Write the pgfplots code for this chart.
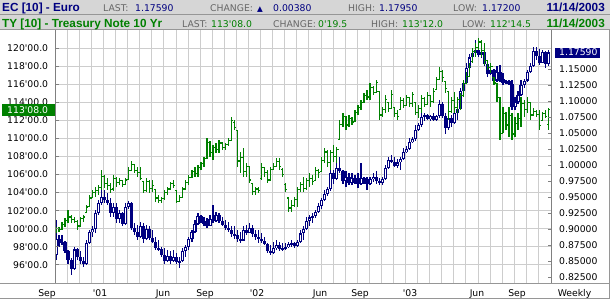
\documentclass[border=0pt]{standalone}
\usepackage{fontspec}
\setmainfont{DejaVu Sans}[Ligatures=TeXOff]
\newfontfamily\hfont{Liberation Sans}[Ligatures=TeXOff]
\usepackage{pgfplots}
\usepackage{pgfplotstable}
\pgfplotsset{compat=1.18}
\definecolor{eurnavy}{RGB}{0,0,128}
\definecolor{tygreen}{RGB}{0,128,0}
\definecolor{hdrgray}{RGB}{214,214,214}
\definecolor{hdrline}{RGB}{150,150,150}
\definecolor{gridgray}{RGB}{205,205,205}
\definecolor{axisgray}{RGB}{128,128,128}
\definecolor{lblgray}{RGB}{102,102,102}
\newcommand{\nf}{\fontsize{9.3}{11}\selectfont}
\newcommand{\hb}{\hfont\bfseries\fontsize{11.8}{13}\selectfont}

\pgfplotstableread{
w o h l c
0 0.860 0.914 0.852 0.885
1 0.885 0.891 0.872 0.878
2 0.878 0.891 0.875 0.880
3 0.880 0.882 0.862 0.866
4 0.866 0.867 0.846 0.852
5 0.852 0.854 0.828 0.838
6 0.838 0.872 0.836 0.868
7 0.868 0.870 0.852 0.856
8 0.856 0.865 0.846 0.850
9 0.850 0.857 0.841 0.845
10 0.845 0.883 0.843 0.878
11 0.878 0.898 0.876 0.895
12 0.895 0.904 0.888 0.900
13 0.900 0.930 0.893 0.925
14 0.925 0.945 0.922 0.940
15 0.940 0.962 0.938 0.950
16 0.950 0.961 0.940 0.945
17 0.945 0.956 0.937 0.940
18 0.940 0.948 0.919 0.925
19 0.925 0.940 0.919 0.935
20 0.935 0.940 0.909 0.915
21 0.915 0.930 0.909 0.925
22 0.925 0.927 0.904 0.908
23 0.908 0.940 0.906 0.935
24 0.935 0.943 0.932 0.940
25 0.940 0.942 0.898 0.902
26 0.902 0.909 0.891 0.895
27 0.895 0.906 0.883 0.888
28 0.888 0.911 0.886 0.905
29 0.905 0.909 0.878 0.885
30 0.885 0.906 0.883 0.900
31 0.900 0.904 0.883 0.886
32 0.886 0.898 0.878 0.880
33 0.880 0.888 0.867 0.870
34 0.870 0.883 0.865 0.868
35 0.868 0.872 0.857 0.860
36 0.860 0.870 0.846 0.850
37 0.850 0.867 0.849 0.858
38 0.858 0.865 0.846 0.850
39 0.850 0.867 0.848 0.856
40 0.856 0.862 0.846 0.848
41 0.848 0.857 0.839 0.850
42 0.850 0.870 0.849 0.865
43 0.865 0.875 0.857 0.872
44 0.872 0.888 0.867 0.884
45 0.884 0.898 0.880 0.895
46 0.895 0.914 0.893 0.908
47 0.908 0.925 0.906 0.920
48 0.920 0.922 0.909 0.912
49 0.912 0.919 0.904 0.908
50 0.908 0.917 0.901 0.905
51 0.905 0.922 0.904 0.915
52 0.915 0.938 0.909 0.912
53 0.912 0.927 0.911 0.922
54 0.922 0.925 0.909 0.912
55 0.912 0.919 0.904 0.906
56 0.906 0.914 0.898 0.902
57 0.902 0.911 0.896 0.898
58 0.898 0.904 0.888 0.892
59 0.892 0.904 0.885 0.890
60 0.890 0.898 0.880 0.884
61 0.884 0.896 0.878 0.882
62 0.882 0.904 0.881 0.898
63 0.898 0.906 0.891 0.894
64 0.894 0.909 0.893 0.902
65 0.902 0.906 0.888 0.892
66 0.892 0.898 0.883 0.888
67 0.888 0.898 0.878 0.884
68 0.884 0.893 0.878 0.881
69 0.881 0.888 0.875 0.877
70 0.877 0.878 0.862 0.865
71 0.865 0.875 0.859 0.862
72 0.862 0.880 0.861 0.870
73 0.870 0.883 0.867 0.875
74 0.875 0.880 0.865 0.868
75 0.868 0.878 0.865 0.870
76 0.870 0.878 0.867 0.872
77 0.872 0.880 0.870 0.876
78 0.876 0.883 0.872 0.878
79 0.878 0.880 0.870 0.874
80 0.874 0.883 0.872 0.880
81 0.880 0.898 0.878 0.893
82 0.893 0.904 0.883 0.900
83 0.900 0.919 0.898 0.912
84 0.912 0.922 0.904 0.918
85 0.918 0.925 0.909 0.920
86 0.920 0.930 0.917 0.927
87 0.927 0.940 0.925 0.936
88 0.936 0.948 0.932 0.945
89 0.945 0.961 0.943 0.955
90 0.955 0.966 0.951 0.962
91 0.962 0.992 0.960 0.988
92 0.988 0.992 0.971 0.978
93 0.978 1.003 0.977 0.995
94 0.995 1.013 0.987 0.990
95 0.990 0.992 0.971 0.975
96 0.975 0.990 0.966 0.982
97 0.982 0.987 0.969 0.972
98 0.972 0.987 0.969 0.980
99 0.980 0.984 0.971 0.975
100 0.975 0.987 0.964 0.970
101 0.970 1.003 0.968 0.980
102 0.980 0.982 0.971 0.975
103 0.975 0.982 0.961 0.970
104 0.970 0.982 0.969 0.978
105 0.978 0.987 0.974 0.982
106 0.982 0.990 0.971 0.975
107 0.975 0.979 0.969 0.972
108 0.972 0.982 0.969 0.978
109 0.978 1.000 0.976 0.995
110 0.995 1.013 0.994 1.008
111 1.008 1.016 1.003 1.004
112 1.004 1.013 0.997 0.999
113 0.999 1.010 0.995 1.004
114 1.004 1.013 0.992 1.010
115 1.010 1.026 1.008 1.020
116 1.020 1.029 1.018 1.025
117 1.025 1.042 1.024 1.036
118 1.036 1.044 1.034 1.040
119 1.040 1.062 1.038 1.055
120 1.055 1.065 1.053 1.062
121 1.062 1.081 1.060 1.075
122 1.075 1.081 1.068 1.078
123 1.078 1.080 1.070 1.072
124 1.072 1.078 1.068 1.076
125 1.076 1.081 1.068 1.071
126 1.071 1.078 1.068 1.076
127 1.076 1.102 1.074 1.095
128 1.095 1.099 1.073 1.076
129 1.076 1.081 1.049 1.058
130 1.058 1.078 1.055 1.074
131 1.074 1.078 1.060 1.065
132 1.065 1.086 1.064 1.082
133 1.082 1.091 1.070 1.088
134 1.088 1.120 1.086 1.115
135 1.115 1.133 1.107 1.128
136 1.128 1.159 1.126 1.152
137 1.152 1.174 1.150 1.168
138 1.168 1.180 1.159 1.175
139 1.175 1.195 1.172 1.180
140 1.180 1.190 1.169 1.172
141 1.172 1.190 1.167 1.176
142 1.176 1.178 1.154 1.158
143 1.158 1.160 1.138 1.142
144 1.142 1.151 1.141 1.148
145 1.148 1.150 1.128 1.132
146 1.132 1.154 1.130 1.145
147 1.145 1.156 1.130 1.135
148 1.135 1.143 1.125 1.128
149 1.128 1.133 1.126 1.131
150 1.131 1.133 1.125 1.127
151 1.127 1.133 1.086 1.090
152 1.090 1.107 1.086 1.098
153 1.098 1.115 1.096 1.110
154 1.110 1.133 1.108 1.125
155 1.125 1.135 1.120 1.132
156 1.132 1.148 1.130 1.145
157 1.145 1.159 1.143 1.155
158 1.155 1.185 1.153 1.178
159 1.178 1.185 1.164 1.170
160 1.170 1.182 1.156 1.160
161 1.160 1.180 1.159 1.176
162 1.176 1.178 1.151 1.158
163 1.158 1.1795 1.155 1.1759
}\eurdata

\pgfplotstableread{
w o h l c
0 99.7 100.23 99.49 100.0
1 100.0 100.23 99.68 99.9
2 99.9 100.78 99.86 100.5
3 100.5 101.15 100.23 100.9
4 100.9 102.07 100.60 101.3
5 101.3 101.52 100.60 101.0
6 101.0 101.33 100.60 100.8
7 100.8 100.97 99.86 100.3
8 100.3 101.33 100.20 101.1
9 101.1 101.52 100.78 101.3
10 101.8 102.63 101.70 102.4
11 102.5 103.74 102.44 103.4
12 103.4 104.29 103.37 104.0
13 104.0 104.66 103.55 104.2
14 104.2 104.85 103.74 104.6
15 104.6 106.51 104.29 105.8
16 105.8 105.90 104.48 105.0
17 105.0 105.59 104.29 104.8
18 104.8 105.03 103.92 104.3
19 104.4 105.95 104.20 105.6
20 105.6 105.77 104.66 105.1
21 105.1 105.59 104.85 105.3
22 105.3 105.40 104.66 104.9
23 104.9 105.59 104.85 105.4
24 105.5 106.88 105.40 106.5
25 106.5 107.54 106.40 107.1
26 107.1 107.15 106.14 106.5
27 106.5 106.88 105.77 106.2
28 106.2 106.88 105.40 105.6
29 105.2 105.22 103.92 104.2
30 104.2 105.59 104.10 105.2
31 105.2 105.40 103.92 104.5
32 104.5 105.40 104.11 104.8
33 104.3 104.40 103.00 103.4
34 103.4 103.74 102.81 103.1
35 103.1 103.55 102.81 103.3
36 103.3 104.29 103.20 104.0
37 104.0 104.66 103.74 104.4
38 104.4 105.22 104.29 105.0
39 105.0 105.40 104.48 104.8
40 104.2 104.29 102.81 103.0
41 103.0 103.74 102.95 103.5
42 103.5 104.66 103.50 104.4
43 104.4 105.40 104.29 105.1
44 105.1 105.95 104.85 105.7
45 105.7 106.51 105.59 106.3
46 106.3 106.88 105.77 106.1
47 106.1 107.06 105.77 106.8
48 106.8 107.43 106.51 107.2
49 107.2 107.99 106.88 107.8
50 107.8 110.02 107.70 109.6
51 109.6 109.70 107.99 108.4
52 108.4 109.28 107.62 109.0
53 109.0 109.46 108.36 108.8
54 108.8 109.83 108.36 109.5
55 109.5 109.65 108.73 109.0
56 109.0 109.46 108.73 109.3
57 109.3 110.02 109.20 109.8
58 109.8 112.42 109.70 112.0
59 111.8 112.10 110.94 111.2
60 110.9 110.94 106.88 107.5
61 107.5 108.54 106.14 107.9
62 107.9 108.91 105.77 106.3
63 106.3 107.25 105.77 106.9
64 106.9 106.95 105.03 105.4
65 105.0 105.03 103.74 104.1
66 104.1 104.66 103.74 104.4
67 104.4 104.66 103.92 104.2
68 105.6 107.25 105.40 106.8
69 106.8 106.88 105.77 106.2
70 106.2 106.51 105.03 105.4
71 105.4 106.88 105.30 106.6
72 106.6 107.25 106.51 106.9
73 106.9 107.80 106.85 107.4
74 107.4 107.80 106.51 106.9
75 106.6 106.69 105.77 106.0
76 104.9 105.03 104.11 104.3
77 103.4 103.55 101.89 102.3
78 102.3 103.18 101.89 102.6
79 102.6 103.55 102.44 103.2
80 103.2 104.66 102.44 104.3
81 104.3 105.22 104.11 104.9
82 104.9 105.77 104.11 104.5
83 104.5 105.59 104.29 105.3
84 105.3 106.14 104.66 105.6
85 105.6 105.95 104.85 105.2
86 105.3 106.88 105.25 106.5
87 106.5 106.60 105.59 106.2
88 106.3 107.99 106.25 107.6
89 107.6 108.91 107.25 108.5
90 108.5 108.73 106.88 107.3
91 107.3 108.73 106.51 108.4
92 108.4 109.28 107.43 108.0
93 108.0 109.10 107.25 108.8
94 109.9 112.05 109.83 111.6
95 111.6 112.79 111.31 112.4
96 112.4 112.50 110.94 111.5
97 111.5 112.61 111.31 112.2
98 112.2 112.42 111.50 111.8
99 111.9 113.16 111.80 112.9
100 112.9 113.70 112.61 113.4
101 113.4 114.27 113.16 114.0
102 114.0 115.01 113.95 114.8
103 114.8 115.38 114.27 114.6
104 114.6 116.12 114.27 115.7
105 115.7 115.80 114.82 115.1
106 115.1 116.49 115.01 116.2
107 115.2 115.30 112.05 112.6
108 112.6 113.53 112.42 113.2
109 113.2 114.82 112.79 114.3
110 114.0 114.08 112.97 113.3
111 113.3 115.38 113.25 114.9
112 113.4 113.53 112.42 112.8
113 112.8 113.16 112.05 112.4
114 113.2 114.64 113.16 114.2
115 114.2 114.45 113.35 113.7
116 113.7 114.82 113.65 114.5
117 114.5 114.64 113.53 113.9
118 113.9 115.19 113.53 114.9
119 114.0 114.08 112.61 112.9
120 112.9 113.72 112.24 113.3
121 113.3 114.82 112.79 114.4
122 114.4 114.64 113.53 113.8
123 113.8 115.19 113.72 114.8
124 114.8 114.82 113.53 114.1
125 114.1 115.56 113.90 115.2
126 115.4 116.86 115.38 116.5
127 116.5 117.96 116.45 117.4
128 117.4 117.59 116.30 116.8
129 116.3 116.40 115.01 115.5
130 115.2 115.30 112.05 113.0
131 113.0 114.64 112.79 114.2
132 114.2 115.19 112.79 113.4
133 113.4 114.64 112.79 114.3
134 114.3 115.01 113.16 114.8
135 114.8 116.49 114.64 116.1
136 116.1 117.41 116.05 116.9
137 116.9 118.33 116.86 118.0
138 118.5 119.99 118.40 119.6
139 119.6 120.55 119.07 120.1
140 120.1 121.11 119.81 120.7
141 120.7 120.92 119.07 119.8
142 119.8 120.55 118.15 118.6
143 118.6 118.70 117.59 117.9
144 117.9 118.33 117.23 118.0
145 116.8 116.86 115.93 116.2
146 116.1 116.12 114.08 114.5
147 114.5 114.64 109.83 110.6
148 110.6 113.53 110.57 112.8
149 112.8 112.90 110.94 111.5
150 111.5 113.53 110.20 112.5
151 112.5 112.79 109.83 110.5
152 110.5 112.42 110.20 111.7
153 111.7 112.79 110.94 112.2
154 112.2 114.64 111.31 113.9
155 113.9 114.27 112.42 113.2
156 113.2 114.64 112.79 114.0
157 114.0 114.10 112.05 112.6
158 112.6 113.35 112.55 113.0
159 113.0 113.16 112.42 112.7
160 112.7 113.16 110.94 111.4
161 112.0 112.97 111.90 112.8
162 112.8 113.16 112.24 112.4
163 111.6 113.375 110.94 113.25
}\tydata

\pgfplotsset{
  chartgeom/.style={
    at={(55bp,16.5bp)}, anchor=south west,
    scale only axis, width=497bp, height=252.5bp,
    xmin=-0.331, xmax=164.24,
  },
}

\begin{document}
\begin{tikzpicture}[x=1bp,y=1bp]
\useasboundingbox (0,0) rectangle (610,300);
\fill[white] (0,0) rectangle (610,300);
% header bands
\fill[hdrgray] (0,286) rectangle (610,300);
\fill[hdrgray] (0,271) rectangle (610,285);
\fill[hdrline] (0,285) rectangle (610,286);
\fill[hdrline] (0,270) rectangle (610,271);

% axis A: left labels + x labels only
\begin{axis}[chartgeom,
  ymin=93.924, ymax=121.918,
  axis line style={draw=none},
  xtick={14.57,35.43,49.34,66.56,87.42,100.66,117.22,139.4,152.65},
  xticklabels={'01,Jun,Sep,'02,Jun,Sep,'03,Jun,Sep},
  ytick={96,98,...,120},
  yticklabels={96'00.0,98'00.0,100'00.0,102'00.0,104'00.0,106'00.0,108'00.0,110'00.0,112'00.0,114'00.0,116'00.0,118'00.0,120'00.0},
  ytick pos=left, xtick pos=bottom,
  major tick length=0pt,
  xticklabel style={font=\nf, anchor=base, yshift=-12.8bp, inner sep=0pt},
  yticklabel style={font=\nf, anchor=east, xshift=-6.7bp, inner sep=0pt},
]
\addplot[draw=none, mark=none, forget plot] coordinates {(0,100)};
\end{axis}

% axis B: Euro scale labels only (right)
\begin{axis}[chartgeom,
  ymin=0.814844, ymax=1.209375,
  hide x axis,
  axis y line*=right,
  axis line style={draw=none},
  ytick={0.825,0.85,0.875,0.9,0.925,0.95,0.975,1,1.025,1.05,1.075,1.1,1.125,1.15},
  yticklabels={0.82500,0.85000,0.87500,0.90000,0.92500,0.95000,0.97500,1.00000,1.02500,1.05000,1.07500,1.10000,1.12500,1.15000},
  major tick length=0pt,
  yticklabel style={font=\nf, anchor=west, xshift=7bp, inner sep=0pt},
]
\addplot[draw=none, mark=none, forget plot] coordinates {(0,1)};
\end{axis}

% grid drawn after the label axes, before the data axis
\foreach \gx in {0,...,39} {
  \pgfmathtruncatemacro\gxx{67.32+12.08*\gx}
  \fill[gridgray] (\gxx,17) rectangle (\gxx+1,270);
}
\foreach \gy in {35,53,71,89,107,125,143,161,179,197,215,233,251} {
  \fill[gridgray] (56,\gy) rectangle (551,\gy+1);
}

% axis C: Euro (mapped onto the left scale: y = 70.955*EUR + 36.107) and Treasury data
\begin{axis}[chartgeom,
  ymin=93.924, ymax=121.918,
  hide axis,
]
\addplot[draw=none, mark=none, forget plot,
  error bars/.cd, y dir=both, y explicit, error mark=none,
  error bar style={draw=eurnavy, line width=1.2bp}]
  table[x=w, y expr={70.955*(\thisrow{h}+\thisrow{l})/2+36.107}, y error expr={70.955*(\thisrow{h}-\thisrow{l})/2}]{\eurdata};
\addplot[draw=none, mark=none, forget plot,
  error bars/.cd, y dir=both, y explicit, error mark=none,
  error bar style={draw=eurnavy, line width=3.2bp}]
  table[x=w, y expr={70.955*(\thisrow{o}+\thisrow{c})/2+36.107}, y error expr={70.955*max(abs(\thisrow{c}-\thisrow{o})/2,0.0010)}]{\eurdata};
\addplot[draw=none, mark=none, forget plot,
  error bars/.cd, y dir=both, y explicit, error mark=none,
  error bar style={draw=white, line width=1bp}]
  table[x=w, y expr={70.955*(\thisrow{o}+\thisrow{c})/2+36.107}, y error expr={70.955*ifthenelse(\thisrow{c}>\thisrow{o},max((\thisrow{c}-\thisrow{o})/2-0.0017,0),0)}]{\eurdata};
\addplot[draw=none, mark=none, forget plot,
  error bars/.cd, y dir=both, y explicit, error mark=none,
  error bar style={draw=tygreen, line width=1.2bp}]
  table[x=w, y expr={(\thisrow{h}+\thisrow{l})/2}, y error expr={(\thisrow{h}-\thisrow{l})/2}]{\tydata};
\addplot[draw=none, mark=none, forget plot,
  error bars/.cd, x dir=minus, x fixed=0.55, error mark=none,
  error bar style={draw=tygreen, line width=1.1bp}]
  table[x=w, y=o]{\tydata};
\addplot[draw=none, mark=none, forget plot,
  error bars/.cd, x dir=plus, x fixed=0.55, error mark=none,
  error bar style={draw=tygreen, line width=1.1bp}]
  table[x=w, y=c]{\tydata};
\end{axis}

% axis ticks (inward)
\foreach \gy in {35,53,71,89,107,125,143,161,179,197,215,233,251} {
  \fill[axisgray] (56,\gy) rectangle (59,\gy+1);
}
\foreach \gy in {22,38,54,70,86,102,118,134,150,166,182,198,214,230} {
  \fill[axisgray] (548,\gy) rectangle (551,\gy+1);
}

% frame lines
\fill[axisgray] (55,16) rectangle (56,270);
\fill[axisgray] (551,16) rectangle (552,270);
\fill[hdrline] (0,16) rectangle (610,17);
\fill[hdrline] (0,1) rectangle (610,2);
\fill[hdrline] (609,1) rectangle (610,270);

% last-value boxes
\fill[tygreen] (2,184) rectangle (55,196);
\node[anchor=east, inner sep=0pt, text=white, font=\nf] at (48.3,190) {113'08.0};
\fill[eurnavy] (555,242.5) rectangle (600,252.5);
\node[anchor=west, inner sep=0pt, text=white, font=\nf] at (559,247.5) {1.17590};

% bottom extra labels
\node[anchor=base, inner sep=0pt, font=\nf] at (47,3.7) {Sep};
\node[anchor=base, inner sep=0pt, font=\nf] at (574.5,3.7) {Weekly};

% header texts
\begin{scope}[every node/.style={anchor=base west, inner sep=0pt, font=\nf}]
\node[text=eurnavy, font=\hb] at (2,288.3) {EC [10] - Euro};
\node[text=lblgray] at (103,288.3) {LAST:};
\node[text=eurnavy] at (135,288.3) {1.17590};
\node[text=lblgray] at (210,288.3) {CHANGE:};
\node[text=eurnavy, font=\fontsize{7.5}{9}\selectfont] at (257,288.8) {▲};
\node[text=eurnavy] at (273,288.3) {0.00380};
\node[text=lblgray] at (348,288.3) {HIGH:};
\node[text=eurnavy] at (379,288.3) {1.17950};
\node[text=lblgray] at (453,288.3) {LOW:};
\node[text=eurnavy] at (482,288.3) {1.17200};
\node[text=eurnavy, font=\hb, anchor=base east] at (605,288.3) {11/14/2003};
\node[text=tygreen, font=\hb] at (2,272.7) {TY [10] - Treasury Note 10 Yr};
\node[text=lblgray] at (182,272.7) {LAST:};
\node[text=tygreen] at (211,272.7) {113'08.0};
\node[text=lblgray] at (273,272.7) {CHANGE:};
\node[text=tygreen] at (318,272.7) {0'19.5};
\node[text=lblgray] at (371,272.7) {HIGH:};
\node[text=tygreen] at (402,272.7) {113'12.0};
\node[text=lblgray] at (462,272.7) {LOW:};
\node[text=tygreen] at (490,272.7) {112'14.5};
\node[text=tygreen, font=\hb, anchor=base east] at (605,272.7) {11/14/2003};
\end{scope}
\end{tikzpicture}
\end{document}
